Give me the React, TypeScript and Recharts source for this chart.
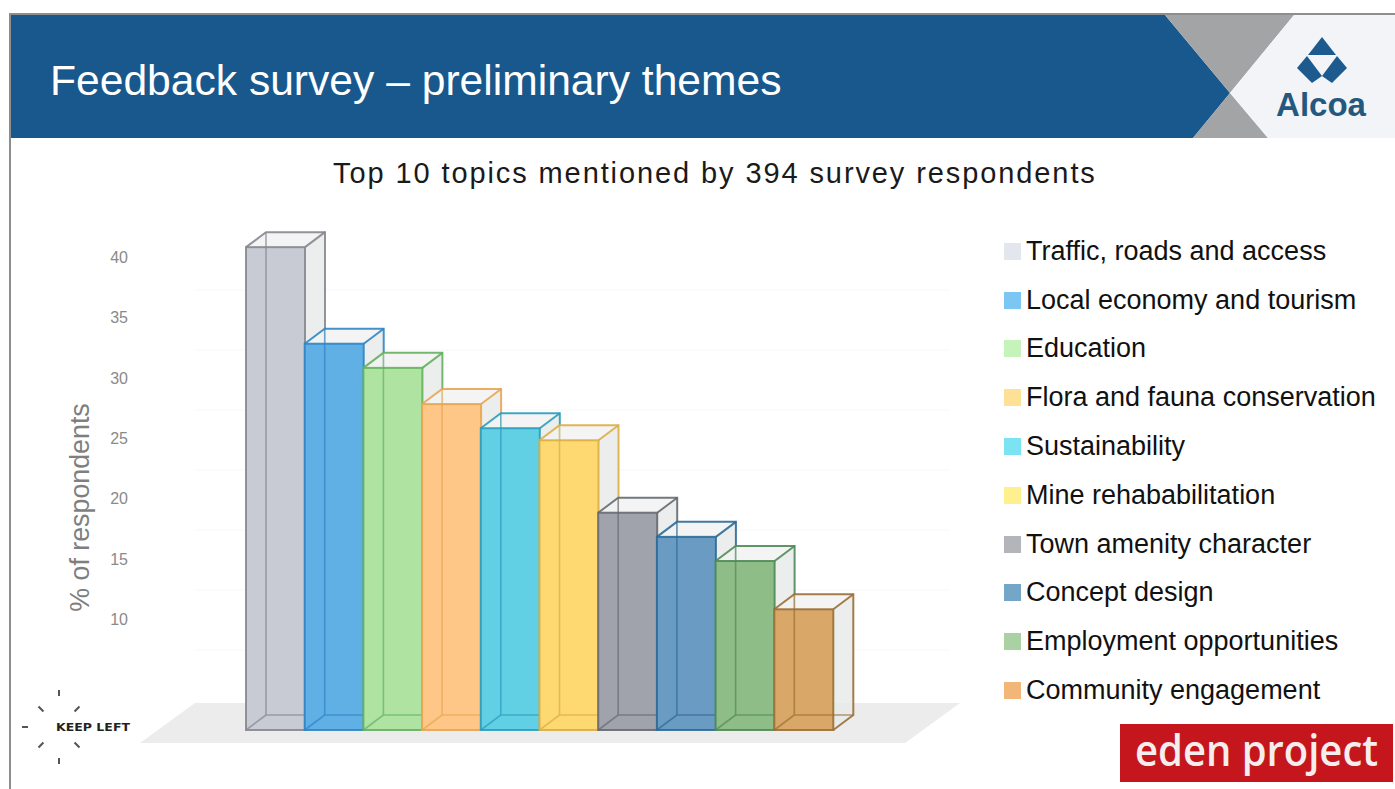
import { Bar, ComposedChart, Legend, XAxis, YAxis } from 'recharts';

const topics = [
  'Traffic, roads and access',
  'Local economy and tourism',
  'Education',
  'Flora and fauna conservation',
  'Sustainability',
  'Mine rehababilitation',
  'Town amenity character',
  'Concept design',
  'Employment opportunities',
  'Community engagement',
];
const percentages = [41, 33, 31, 28, 26, 25, 19, 17, 15, 11];
const yTicks = [10, 15, 20, 25, 30, 35, 40];
const faceColors = ['#c8cbd3', '#60b0e6', '#aee3a2', '#fec687', '#62d0e4', '#fed871', '#a0a3ab', '#6a9cc3', '#8fbd88', '#d9a869'];
const edgeColors = ['#85888e', '#2f85c4', '#65b05f', '#e8a552', '#2a9dbd', '#dcae42', '#666970', '#2c6a98', '#4f8a58', '#9a6f36'];
const legendColors = ['#e3e6ec', '#7cc6f3', '#c6f3ba', '#fee096', '#7ce3f3', '#fef08c', '#b3b5bb', '#74a6c8', '#a9d1a2', '#f2b778'];

const rows = topics.map((topic, i) => ({ topic, value: percentages[i] }));

const DEPTH_X = 20;
const DEPTH_Y = 15;
const font = '"Liberation Sans", Arial, sans-serif';

function Box3D(props: any) {
  const { x, y, width, height, index } = props;
  const edge = edgeColors[index];
  const dx = DEPTH_X;
  const dy = DEPTH_Y;
  const right = x + width;
  const bottom = y + height;
  return (
    <g style={{ filter: 'blur(0.5px)' }}>
      <polygon
        points={`${right},${y} ${right + dx},${y - dy} ${right + dx},${bottom - dy} ${right},${bottom}`}
        fill="#e8ebea"
        fillOpacity={0.85}
      />
      <polygon
        points={`${x},${y} ${x + dx},${y - dy} ${right + dx},${y - dy} ${right},${y}`}
        fill="#f2f3f2"
        fillOpacity={0.9}
      />
      <rect x={x} y={y} width={width} height={height} fill={faceColors[index]} />
      <g stroke={edge} strokeWidth={1.6} fill="none" strokeOpacity={0.7}>
        <path d={`M${x + dx},${y - dy} V${bottom - dy} M${x + dx},${bottom - dy} H${right + dx}`} />
        <path d={`M${x},${bottom} L${x + dx},${bottom - dy}`} />
      </g>
      <g stroke={edge} strokeWidth={2} fill="none" strokeOpacity={0.9}>
        <rect x={x} y={y} width={width} height={height} />
        <path d={`M${x},${y} L${x + dx},${y - dy} H${right + dx} V${bottom - dy} L${right},${bottom}`} />
        <path d={`M${right},${y} L${right + dx},${y - dy}`} />
      </g>
    </g>
  );
}

function TopicLegend() {
  return (
    <div style={{ fontFamily: font, fontSize: 27, color: '#111' }}>
      {topics.map((topic, i) => (
        <div key={topic} style={{ height: 48.8, display: 'flex', alignItems: 'center', whiteSpace: 'nowrap' }}>
          <span style={{ width: 17, height: 17, background: legendColors[i], marginRight: 5, flex: 'none' }} />
          {topic}
        </div>
      ))}
    </div>
  );
}

function Slide() {
  const rays = [0, 45, 90, 135, 180, 225, 270, 315];
  return (
    <svg width={1395} height={789} style={{ position: 'absolute', left: 0, top: 0 }}>
      <rect width={1395} height={789} fill="#ffffff" />
      <rect x={9} y={13} width={1386} height={2.5} fill="#8e8e8e" />
      <rect x={9} y={13} width={2} height={776} fill="#8e8e8e" />
      <polygon points="11,15 1165,15 1230,93 1193,138 11,138" fill="#19588c" />
      <polygon points="1165,15 1294,15 1230,93" fill="#a3a4a6" />
      <polygon points="1230,93 1268,138 1193,138" fill="#a3a4a6" />
      <polygon points="1294,15 1395,15 1395,138 1268,138 1230,93" fill="#f2f4f7" />
      <polygon points="1322,37 1336,55 1308,55" fill="#1d5b8e" />
      <polygon points="1297,68 1307,56 1322,76 1312,83" fill="#1d5b8e" />
      <polygon points="1347,68 1337,56 1322,76 1332,83" fill="#1d5b8e" />
      <text x={1321} y={116} textAnchor="middle" fontFamily={font} fontSize={33} fontWeight={700} fill="#25587f">
        Alcoa
      </text>
      <text x={50} y={95} fontFamily={font} fontSize={42.6} fill="#ffffff">
        Feedback survey – preliminary themes
      </text>
      <text x={333} y={183} fontFamily={font} fontSize={29} letterSpacing={1.9} fill="#1a1a1a">
        Top 10 topics mentioned by 394 survey respondents
      </text>

      <g stroke="#fafafa" strokeWidth={1.5}>
        {[290, 350, 410, 470, 530, 590, 650].map((y) => (
          <line key={y} x1={195} x2={950} y1={y} y2={y} />
        ))}
      </g>
      <polygon points="195,703 960,703 905,743 140,743" fill="#ececec" />

      <g stroke="#555" strokeWidth={2}>
        {rays.map((a) => {
          const r = (a * Math.PI) / 180;
          const inner = a % 90 === 0 ? 31 : 22;
          const outer = a % 90 === 0 ? 37 : 29;
          return (
            <line
              key={a}
              x1={59 + inner * Math.cos(r)}
              y1={727 + inner * Math.sin(r)}
              x2={59 + outer * Math.cos(r)}
              y2={727 + outer * Math.sin(r)}
            />
          );
        })}
      </g>
      <rect x={56} y={718} width={80} height={18} fill="#ffffff" />
      <text x={56} y={731} fontFamily='"DejaVu Sans", sans-serif' fontSize={11} fontWeight={700} fill="#222" textLength={74} lengthAdjust="spacingAndGlyphs">
        KEEP LEFT
      </text>

      <rect x={1120} y={724} width={273} height={58} fill="#c5161d" />
      <text
        transform="translate(1135,766) scale(1.066,1.14)"
        fontFamily='"Open Sans", sans-serif'
        fontSize={37.5}
        fontWeight={600}
        fill="#f6eeee"
      >
        eden project
      </text>
    </svg>
  );
}

export default function App() {
  return (
    <div style={{ position: 'absolute', left: 0, top: 0, width: 1395, height: 789, overflow: 'hidden' }}>
      <Slide />
      <div style={{ position: 'absolute', left: 0, top: 0 }}>
        <ComposedChart
          width={1395}
          height={789}
          data={rows}
          barCategoryGap={0}
          margin={{ top: 223, right: 562, bottom: 59, left: 56 }}
        >
          <XAxis dataKey="topic" hide />
          <YAxis
            type="number"
            width={190}
            domain={[1, 43]}
            ticks={yTicks}
            axisLine={false}
            tickLine={false}
            tickMargin={112}
            tick={{ fontSize: 16, fill: '#8a8a8a', fontFamily: font, dy: -2 }}
            label={{
              value: '% of respondents',
              angle: -90,
              position: 'insideLeft',
              dx: 18,
              dy: 31,
              style: { fontSize: 26.8, fill: '#7f7f7f', fontFamily: font, textAnchor: 'middle' },
            }}
          />
          <Legend
            layout="vertical"
            align="center"
            verticalAlign="middle"
            content={<TopicLegend />}
            wrapperStyle={{ left: 1004, top: 227, width: 391, bottom: 'auto', right: 'auto' }}
          />
          <Bar dataKey="value" isAnimationActive={false} shape={<Box3D />} />
        </ComposedChart>
      </div>
    </div>
  );
}
